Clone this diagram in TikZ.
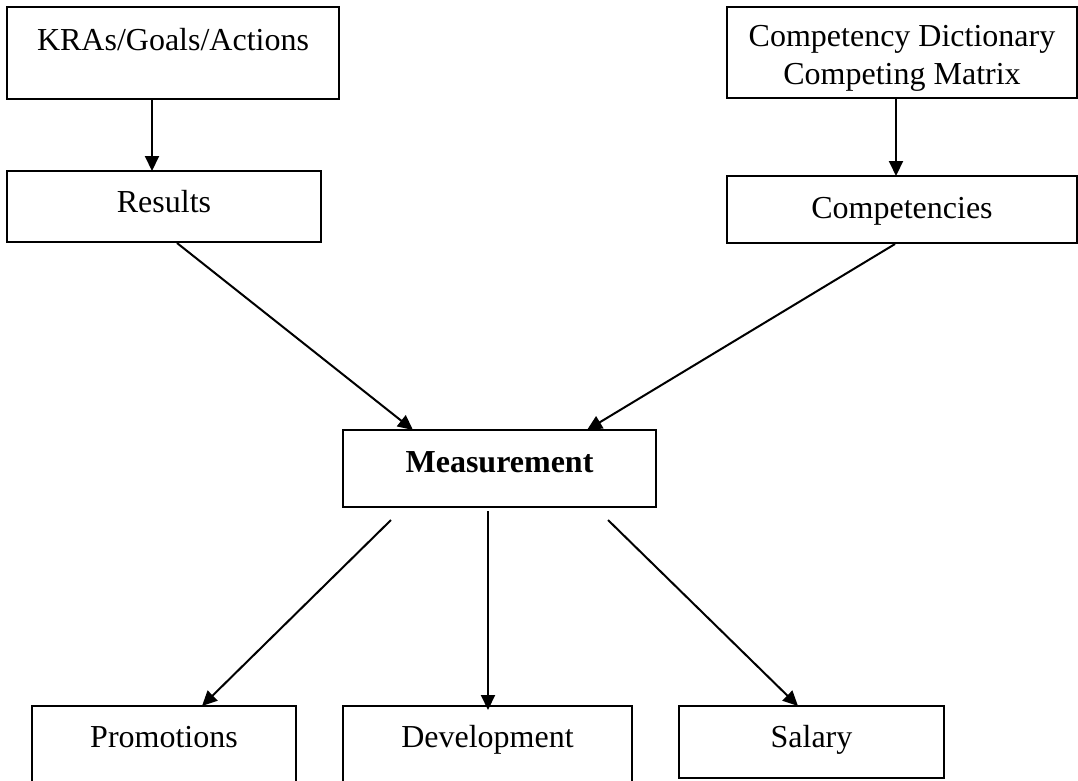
\documentclass[tikz,border=0pt]{standalone}
\usepackage{fontspec}
\setmainfont{Liberation Serif}
\usetikzlibrary{arrows.meta}
\begin{document}
\begin{tikzpicture}[x=1pt,y=-1pt,
  box/.style={draw,line width=1.8pt,rectangle,inner sep=0pt,outer sep=0pt,anchor=north west,
    font=\fontsize{32}{38}\selectfont},
  arr/.style={line width=2pt,-{Triangle[length=15pt,width=14pt]}}]
\useasboundingbox (0,0) rectangle (1078,780);
\clip (0,0) rectangle (1078,780);
\node[box,minimum width=332pt,text height=43pt,text depth=49pt] (kras) at (7,7) {KRAs/Goals/Actions};
\node[box,minimum width=350pt,minimum height=91pt,align=center] (dict) at (727,7) {\rule{0pt}{32pt}Competency Dictionary\\Competing Matrix};
\node[box,minimum width=314pt,text height=41.5pt,text depth=29.5pt] (res) at (7,171) {Results};
\node[box,minimum width=350pt,text height=42pt,text depth=25pt] (comp) at (727,176) {Competencies};
\node[box,minimum width=313pt,text height=42pt,text depth=35pt] (meas) at (343,430) {\bfseries Measurement};
\node[box,minimum width=264pt,text height=41pt,text depth=60pt] (prom) at (32,706) {Promotions};
\node[box,minimum width=289pt,text height=41pt,text depth=60pt] (dev) at (343,706) {Development};
\node[box,minimum width=265pt,text height=41pt,text depth=31pt] (sal) at (679,706) {Salary};
\draw[arr] ([xshift=-21pt]kras.south) -- ([xshift=-21pt]kras.south |- res.north);
\draw[arr] ([xshift=-6pt]dict.south) -- ([xshift=-6pt]dict.south |- comp.north);
\draw[arr] ([xshift=13pt,yshift=-1pt]res.south) -- ([xshift=-86.5pt]meas.north);
\draw[arr] ([xshift=-7pt,yshift=-1pt]comp.south) -- ([xshift=87.5pt]meas.north);
\draw[arr] ([xshift=-108.5pt,yshift=-13pt]meas.south) -- ([xshift=38pt]prom.north);
\draw[arr] ([xshift=-11.5pt,yshift=-4pt]meas.south) -- ([xshift=-11.5pt,yshift=-4pt]meas.south |- dev.north);
\draw[arr] ([xshift=108.5pt,yshift=-13pt]meas.south) -- ([xshift=-13.5pt]sal.north);
\end{tikzpicture}
\end{document}
